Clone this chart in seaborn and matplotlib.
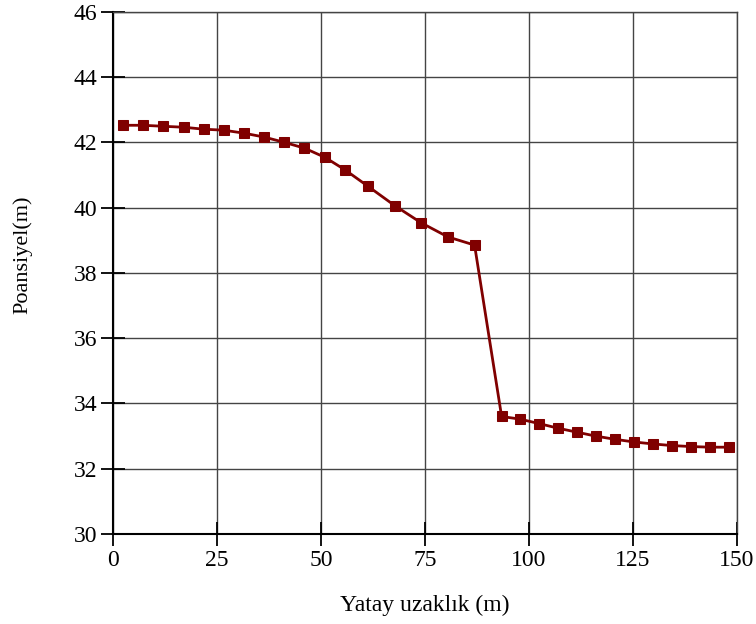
import matplotlib
matplotlib.use("Agg")
import matplotlib.pyplot as plt
import seaborn as sns
import pandas as pd

# Horizontal distance (m) and potential (m) along the section
distance = [2.4, 7.2, 12.0, 17.0, 21.8, 26.6, 31.4, 36.3, 41.1, 46.0,
            50.9, 55.7, 61.3, 67.7, 74.1, 80.5, 86.9, 93.4, 97.8, 102.5,
            107.0, 111.5, 116.0, 120.7, 125.2, 129.7, 134.3, 138.8, 143.4, 148.0]
potential = [42.52, 42.52, 42.49, 42.46, 42.40, 42.37, 42.28, 42.16, 42.00, 41.82,
             41.54, 41.16, 40.65, 40.06, 39.53, 39.10, 38.85, 33.60, 33.52, 33.38,
             33.24, 33.12, 33.00, 32.90, 32.82, 32.76, 32.71, 32.68, 32.66, 32.66]
x_ticks = [0, 25, 50, 75, 100, 125, 150]
y_ticks = [30, 32, 34, 36, 38, 40, 42, 44, 46]

sns.set_theme(style="white")
plt.rcParams["font.family"] = ["Liberation Serif", "DejaVu Serif"]

df = pd.DataFrame({"x": distance, "y": potential})

fig = plt.figure(figsize=(7.56, 6.24), dpi=100)
ax = fig.add_axes([0.1495, 0.1442, 0.8255, 0.8371])

ax.set_xlim(0, 150)
ax.set_ylim(30, 46)
ax.set_xticks(x_ticks)
ax.set_yticks(y_ticks)
ax.grid(True, color="#444444", linewidth=1.0)
ax.set_axisbelow(True)

sns.lineplot(data=df, x="x", y="y", ax=ax, color="#800000", linewidth=2.0,
             marker="s", markersize=7.2, markeredgecolor="#800000", zorder=3)

for side in ["left", "bottom"]:
    ax.spines[side].set_color("black")
    ax.spines[side].set_linewidth(1.5)
for side in ["top", "right"]:
    ax.spines[side].set_color("#444444")
    ax.spines[side].set_linewidth(1.0)

ax.tick_params(axis="both", which="major", bottom=True, left=True,
               direction="inout", length=17, width=1.3,
               color="black", labelsize=17, labelcolor="black")
ax.tick_params(axis="x", pad=3)
ax.tick_params(axis="y", pad=3)

ax.set_xlabel("Yatay uzaklık (m)", fontsize=17, labelpad=17, color="black")
ax.set_ylabel("Poansiyel(m)", fontsize=16, color="black")
ax.yaxis.set_label_coords(-0.13, 0.534)

fig.savefig("out.png", dpi=100)
